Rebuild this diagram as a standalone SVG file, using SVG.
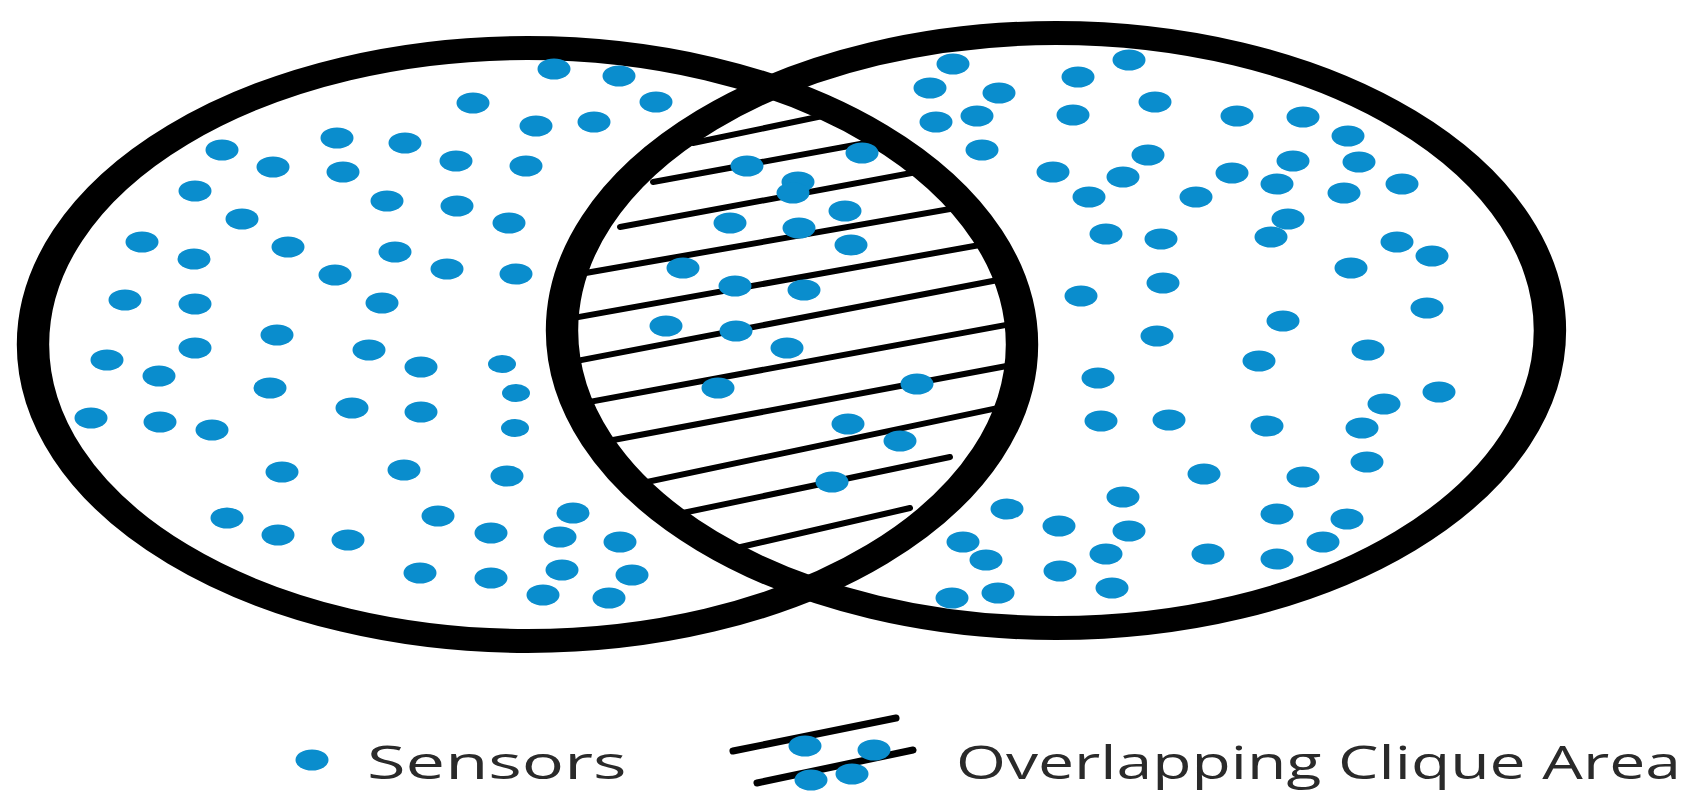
<svg xmlns="http://www.w3.org/2000/svg" xmlns:xlink="http://www.w3.org/1999/xlink" width="1708" height="808" viewBox="0 0 1708 808">
<style>
.ring{fill:none;stroke:#000;stroke-width:24}
.hatch{stroke:#000;stroke-width:6;stroke-linecap:round;fill:none}
.dot{fill:#0a8dcd}
.lbl{font-family:"Open Sans","Liberation Sans",sans-serif;font-size:46px;fill:#2a2a2a}
</style>
<defs>
<ellipse id="d" cx="0" cy="0" rx="16.5" ry="10.5"/>
<ellipse id="ds" cx="0" cy="0" rx="14" ry="9"/>
<clipPath id="cL"><ellipse transform="scale(1.35,1)" cx="390.74" cy="344.5" rx="366.3" ry="296.5"/></clipPath>
<clipPath id="cR"><ellipse transform="scale(1.35,1)" cx="782.2" cy="330.5" rx="365.9" ry="297.5"/></clipPath>
</defs>
<rect width="1708" height="808" fill="#fff"/>
<g id="hatching" clip-path="url(#cL)">
<g clip-path="url(#cR)" class="hatch">
<line x1="693" y1="143" x2="880" y2="104"/>
<line x1="653" y1="182" x2="920" y2="133"/>
<line x1="620" y1="227" x2="960" y2="164"/>
<line x1="540" y1="281" x2="990" y2="202"/>
<line x1="540" y1="324" x2="1030" y2="236"/>
<line x1="540" y1="368" x2="1050" y2="270"/>
<line x1="540" y1="411" x2="1060" y2="315"/>
<line x1="560" y1="450" x2="1060" y2="356"/>
<line x1="590" y1="494" x2="1050" y2="397"/>
<line x1="630" y1="524" x2="950" y2="457"/>
<line x1="680" y1="561" x2="910" y2="508"/>
</g>
</g>
<g id="circles">
<ellipse id="left-circle" class="ring" transform="scale(1.35,1)" cx="390.74" cy="344.5" rx="366.3" ry="296.5"/>
<ellipse id="right-circle" class="ring" transform="scale(1.35,1)" cx="782.2" cy="330.5" rx="365.9" ry="297.5"/>
</g>
<g id="sensors" class="dot">
<use href="#d" x="222" y="150"/><use href="#d" x="337" y="138"/><use href="#d" x="405" y="143"/>
<use href="#d" x="273" y="167"/><use href="#d" x="343" y="172"/><use href="#d" x="195" y="191"/>
<use href="#d" x="387" y="201"/><use href="#d" x="242" y="219"/><use href="#d" x="142" y="242"/>
<use href="#d" x="194" y="259"/><use href="#d" x="288" y="247"/><use href="#d" x="395" y="252"/>
<use href="#d" x="335" y="275"/><use href="#d" x="125" y="300"/><use href="#d" x="195" y="304"/>
<use href="#d" x="382" y="303"/><use href="#d" x="277" y="335"/><use href="#d" x="195" y="348"/>
<use href="#d" x="369" y="350"/><use href="#d" x="107" y="360"/><use href="#d" x="159" y="376"/>
<use href="#d" x="270" y="388"/><use href="#d" x="352" y="408"/><use href="#d" x="421" y="367"/>
<use href="#d" x="421" y="412"/><use href="#d" x="91" y="418"/><use href="#d" x="160" y="422"/>
<use href="#d" x="212" y="430"/><use href="#d" x="282" y="472"/><use href="#d" x="404" y="470"/>
<use href="#d" x="227" y="518"/><use href="#d" x="278" y="535"/><use href="#d" x="348" y="540"/>
<use href="#d" x="420" y="573"/><use href="#d" x="554" y="69"/><use href="#d" x="619" y="76"/>
<use href="#d" x="656" y="102"/><use href="#d" x="473" y="103"/><use href="#d" x="536" y="126"/>
<use href="#d" x="594" y="122"/><use href="#d" x="456" y="161"/><use href="#d" x="526" y="166"/>
<use href="#d" x="457" y="206"/><use href="#d" x="509" y="223"/><use href="#d" x="447" y="269"/>
<use href="#d" x="516" y="274"/><use href="#ds" x="502" y="364"/><use href="#ds" x="516" y="393"/>
<use href="#ds" x="515" y="428"/><use href="#d" x="507" y="476"/><use href="#d" x="438" y="516"/>
<use href="#d" x="573" y="513"/><use href="#d" x="491" y="533"/><use href="#d" x="560" y="537"/>
<use href="#d" x="620" y="542"/><use href="#d" x="491" y="578"/><use href="#d" x="562" y="570"/>
<use href="#d" x="632" y="575"/><use href="#d" x="543" y="595"/><use href="#d" x="609" y="598"/>
<use href="#d" x="747" y="166"/><use href="#d" x="862" y="153"/><use href="#d" x="798" y="182"/>
<use href="#d" x="793" y="193"/><use href="#d" x="845" y="211"/><use href="#d" x="730" y="223"/>
<use href="#d" x="799" y="228"/><use href="#d" x="851" y="245"/><use href="#d" x="683" y="268"/>
<use href="#d" x="735" y="286"/><use href="#d" x="804" y="290"/><use href="#d" x="666" y="326"/>
<use href="#d" x="736" y="331"/><use href="#d" x="787" y="348"/><use href="#d" x="718" y="388"/>
<use href="#d" x="917" y="384"/><use href="#d" x="848" y="424"/><use href="#d" x="900" y="441"/>
<use href="#d" x="832" y="482"/>
<use href="#d" x="953" y="64"/><use href="#d" x="1129" y="60"/><use href="#d" x="1078" y="77"/>
<use href="#d" x="930" y="88"/><use href="#d" x="999" y="93"/><use href="#d" x="1155" y="102"/>
<use href="#d" x="936" y="122"/><use href="#d" x="977" y="116"/><use href="#d" x="1073" y="115"/>
<use href="#d" x="982" y="150"/><use href="#d" x="1148" y="155"/><use href="#d" x="1053" y="172"/>
<use href="#d" x="1123" y="177"/><use href="#d" x="1089" y="197"/><use href="#d" x="1196" y="197"/>
<use href="#d" x="1106" y="234"/><use href="#d" x="1161" y="239"/><use href="#d" x="1163" y="283"/>
<use href="#d" x="1081" y="296"/><use href="#d" x="1157" y="336"/><use href="#d" x="1098" y="378"/>
<use href="#d" x="1101" y="421"/><use href="#d" x="1169" y="420"/><use href="#d" x="1204" y="474"/>
<use href="#d" x="1123" y="497"/><use href="#d" x="1007" y="509"/><use href="#d" x="1059" y="526"/>
<use href="#d" x="1129" y="531"/><use href="#d" x="963" y="542"/><use href="#d" x="1106" y="554"/>
<use href="#d" x="986" y="560"/><use href="#d" x="1208" y="554"/><use href="#d" x="1060" y="571"/>
<use href="#d" x="998" y="593"/><use href="#d" x="952" y="598"/><use href="#d" x="1112" y="588"/>
<use href="#d" x="1237" y="116"/><use href="#d" x="1303" y="117"/><use href="#d" x="1348" y="136"/>
<use href="#d" x="1293" y="161"/><use href="#d" x="1359" y="162"/><use href="#d" x="1232" y="173"/>
<use href="#d" x="1277" y="184"/><use href="#d" x="1344" y="193"/><use href="#d" x="1402" y="184"/>
<use href="#d" x="1288" y="219"/><use href="#d" x="1271" y="237"/><use href="#d" x="1397" y="242"/>
<use href="#d" x="1432" y="256"/><use href="#d" x="1351" y="268"/><use href="#d" x="1427" y="308"/>
<use href="#d" x="1283" y="321"/><use href="#d" x="1368" y="350"/><use href="#d" x="1259" y="361"/>
<use href="#d" x="1439" y="392"/><use href="#d" x="1384" y="404"/><use href="#d" x="1267" y="426"/>
<use href="#d" x="1362" y="428"/><use href="#d" x="1367" y="462"/><use href="#d" x="1303" y="477"/>
<use href="#d" x="1277" y="514"/><use href="#d" x="1347" y="519"/><use href="#d" x="1323" y="542"/>
<use href="#d" x="1277" y="559"/>
</g>
<g id="legend">
<g id="legend-sensors">
<use href="#d" class="dot" x="312" y="760"/>
<text class="lbl" transform="translate(367,779) scale(1.45,1)" x="0" y="0" textLength="179" lengthAdjust="spacingAndGlyphs">Sensors</text>
</g>
<g id="legend-overlap">
<line class="hatch" style="stroke-width:7" x1="733" y1="751" x2="896" y2="718"/>
<line class="hatch" style="stroke-width:7" x1="757" y1="783" x2="913" y2="750"/>
<use href="#d" class="dot" x="805" y="746"/>
<use href="#d" class="dot" x="874" y="750"/>
<use href="#d" class="dot" x="811" y="780"/>
<use href="#d" class="dot" x="852" y="774"/>
<text class="lbl" transform="translate(956,779) scale(1.45,1)" x="0" y="0" textLength="500" lengthAdjust="spacingAndGlyphs">Overlapping Clique Area</text>
</g>
</g>
</svg>
